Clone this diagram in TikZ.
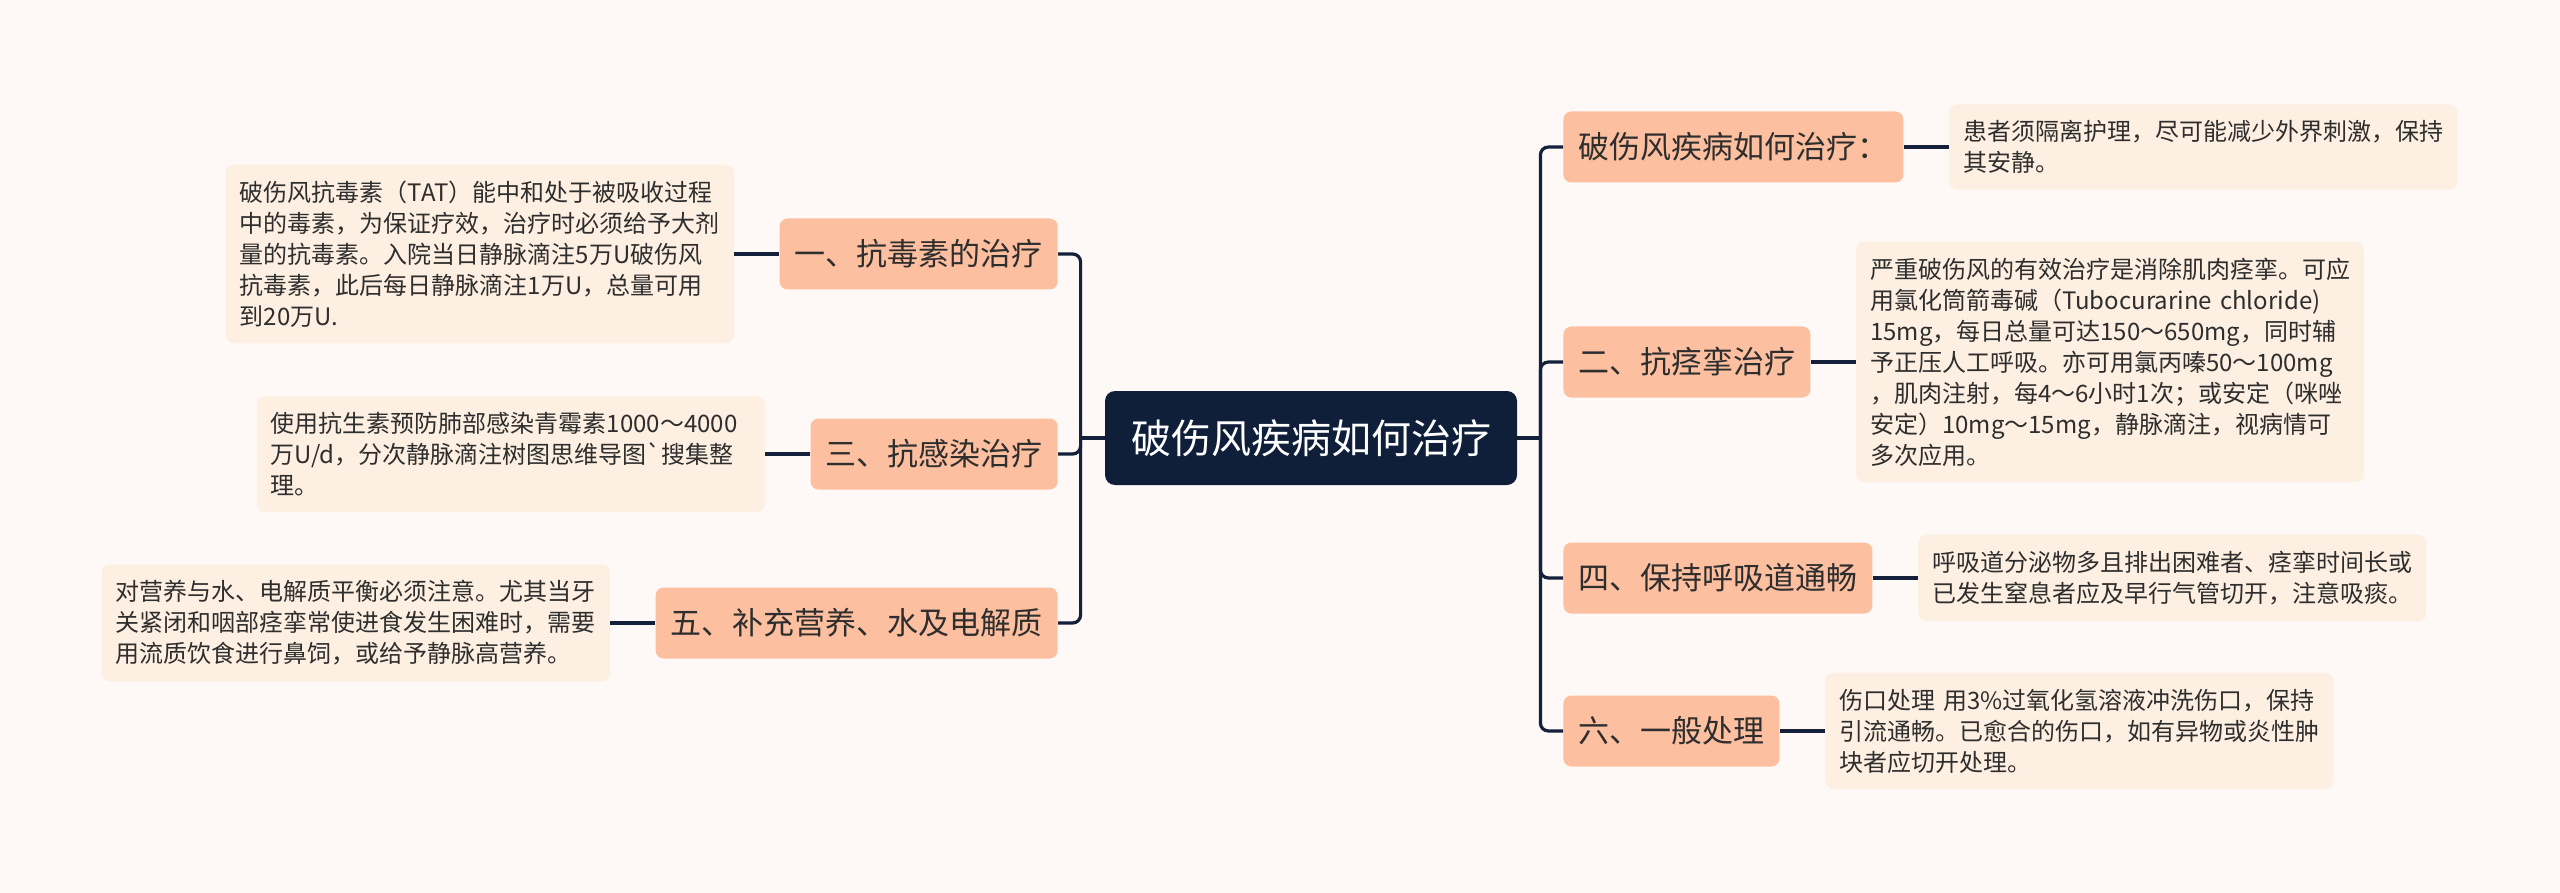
\documentclass[tikz,border=0pt]{standalone}
\usepackage{fontspec}
\setmainfont{Noto Sans CJK SC}
\usetikzlibrary{positioning}
\definecolor{cnavy}{HTML}{0F1F3A}
\definecolor{cline}{HTML}{15203A}
\definecolor{cpeach}{HTML}{FCBF9F}
\definecolor{ccream}{HTML}{FDEFE1}
\definecolor{cpaper}{HTML}{FEF9F7}
\definecolor{cink}{HTML}{2E2E2E}
\tikzset{
  every picture/.style={x=0.5pt, y=-0.5pt},
  root/.style={fill=cnavy, text=white, rounded corners=5pt, font=\fontsize{20pt}{24pt}\selectfont, minimum height=47pt, inner xsep=13pt},
  branch/.style={fill=cpeach, text=cink, rounded corners=4pt, font=\fontsize{15.5pt}{18pt}\selectfont, minimum height=35.5pt, inner xsep=7.5pt},
  leaf/.style={fill=ccream, text=cink, rounded corners=4pt, font=\fontsize{12pt}{15.5pt}\selectfont, text width=240pt, align=left, inner xsep=7pt, inner ysep=8pt},
  link/.style={draw=cline, line width=1.6pt, rounded corners=4pt},
}

\begin{document}
\begin{tikzpicture}
  \fill[cpaper] (0,0) rectangle (2560,893);
  \useasboundingbox (0,0) rectangle (2560,893);
  % centre
  \node[root] (root) at (1311,438) {破伤风疾病如何治疗};
  \coordinate[left=12pt of root.west] (jl);
  \coordinate[right=11.5pt of root.east] (jr);
  % left branches
  \foreach \n/\y/\t in {b1/254/一、抗毒素的治疗, b3/454/三、抗感染治疗, b5/623/五、补充营养、水及电解质} \node[branch, anchor=east] (\n) at (1058,\y) {\t};
  % right branches
  \foreach \n/\y/\t in {r0/147/破伤风疾病如何治疗：, r2/362/二、抗痉挛治疗, r4/578/四、保持呼吸道通畅, r6/731/六、一般处理} \node[branch, anchor=west] (\n) at (1563,\y) {\t};
  % notes, left
  \node[leaf, left=22.5pt of b1] (n1) {破伤风抗毒素（TAT）能中和处于被吸收过程\\中的毒素，为保证疗效，治疗时必须给予大剂\\量的抗毒素。入院当日静脉滴注5万U破伤风\\抗毒素，此后每日静脉滴注1万U，总量可用\\到20万U.};
  \node[leaf, left=22.5pt of b3] (n3) {使用抗生素预防肺部感染青霉素1000～4000\\万U/d，分次静脉滴注树图思维导图\textasciigrave 搜集整\\理。};
  \node[leaf, left=22.5pt of b5] (n5) {对营养与水、电解质平衡必须注意。尤其当牙\\关紧闭和咽部痉挛常使进食发生困难时，需要\\用流质饮食进行鼻饲，或给予静脉高营养。};
  % notes, right
  \node[leaf, right=22.5pt of r0] (m0) {患者须隔离护理，尽可能减少外界刺激，保持\\其安静。};
  \node[leaf, right=22.5pt of r2] (m2) {严重破伤风的有效治疗是消除肌肉痉挛。可应\\用氯化筒箭毒碱（Tubocurarine chloride)\\15mg，每日总量可达150～650mg，同时辅\\予正压人工呼吸。亦可用氯丙嗪50～100mg\\，肌肉注射，每4～6小时1次；或安定（咪唑\\安定）10mg～15mg，静脉滴注，视病情可\\多次应用。};
  \node[leaf, right=22.5pt of r4] (m4) {呼吸道分泌物多且排出困难者、痉挛时间长或\\已发生窒息者应及早行气管切开，注意吸痰。};
  \node[leaf, right=22.5pt of r6] (m6) {伤口处理 用3\%过氧化氢溶液冲洗伤口，保持\\引流通畅。已愈合的伤口，如有异物或炎性肿\\块者应切开处理。};
  % links
  \draw[link] (root.west) -- (jl);
  \draw[link] (root.east) -- (jr);
  \foreach \n in {b1,b3,b5} \draw[link] (jl) |- (\n.east);
  \foreach \n in {r0,r2,r4,r6} \draw[link] (jr) |- (\n.west);
  \foreach \b/\n in {b1/n1,b3/n3,b5/n5} \draw[link] (\b.west) -- (\n.east);
  \foreach \b/\n in {r0/m0,r2/m2,r4/m4,r6/m6} \draw[link] (\b.east) -- (\n.west);
\end{tikzpicture}
\end{document}
